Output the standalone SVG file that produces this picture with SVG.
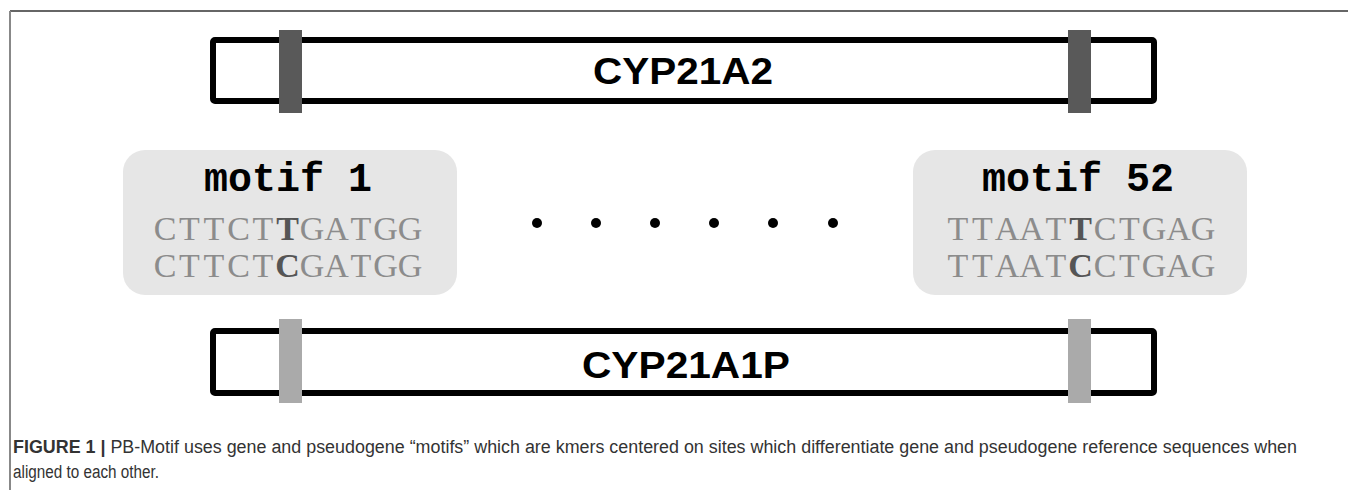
<svg xmlns="http://www.w3.org/2000/svg" width="1348" height="490" viewBox="0 0 1348 490">
<style>
.gene{fill:#fff;stroke:#000;stroke-width:6}
.gl{font-family:"Liberation Sans",Arial,sans-serif;font-weight:bold;font-size:36px;fill:#000;text-anchor:middle}
.bar1{fill:#595959}
.bar2{fill:#aaaaaa}
.mbox{fill:#e6e6e6}
.mt{font-family:"Courier New","Liberation Mono",monospace;font-weight:bold;font-size:40px;fill:#000;text-anchor:middle}
.seq{font-family:"Liberation Serif","Times New Roman",serif;font-size:34px;fill:#8c8c8c;text-anchor:middle}
.hi{font-weight:bold;fill:#555}
.dot{fill:#000}
.cap{font-family:"Liberation Sans",Arial,sans-serif;font-size:18px;fill:#333}
</style>
<rect width="1348" height="490" fill="#fff"/>
<g id="frame">
<line x1="10" y1="11" x2="1348" y2="11" stroke="#333" stroke-width="1.5"/>
<line x1="10" y1="11" x2="10" y2="490" stroke="#888" stroke-width="2"/>
</g>
<g id="gene-CYP21A2">
<rect class="gene" x="213" y="40" width="941" height="61" rx="2"/>
<rect class="bar1" x="279" y="30" width="23" height="83"/>
<rect class="bar1" x="1068" y="30" width="23" height="83"/>
<text class="gl" x="683" y="84" textLength="180" lengthAdjust="spacingAndGlyphs">CYP21A2</text>
</g>
<g id="gene-CYP21A1P">
<rect class="gene" x="213" y="331" width="941" height="62" rx="2"/>
<rect class="bar2" x="279" y="319" width="23" height="84"/>
<rect class="bar2" x="1068" y="319" width="23" height="84"/>
<text class="gl" x="686" y="378" textLength="208" lengthAdjust="spacingAndGlyphs">CYP21A1P</text>
</g>
<g id="motif-1">
<rect class="mbox" x="123" y="150" width="334" height="145" rx="22"/>
<text class="mt" x="288" y="191">motif 1</text>
<text class="seq" x="165 189.5 214 238.5 263 287.5 312 336.5 361 385.5 410" y="240">CTTCT<tspan class="hi">T</tspan>GATGG</text>
<text class="seq" x="165 189.5 214 238.5 263 287.5 312 336.5 361 385.5 410" y="277">CTTCT<tspan class="hi">C</tspan>GATGG</text>
</g>
<g id="motif-52">
<rect class="mbox" x="913" y="150" width="334" height="145" rx="22"/>
<text class="mt" x="1078" y="191">motif 52</text>
<text class="seq" x="958 982.5 1007 1031.5 1056 1080.5 1105 1129.5 1154 1178.5 1203" y="240">TTAAT<tspan class="hi">T</tspan>CTGAG</text>
<text class="seq" x="958 982.5 1007 1031.5 1056 1080.5 1105 1129.5 1154 1178.5 1203" y="277">TTAAT<tspan class="hi">C</tspan>CTGAG</text>
</g>
<g id="ellipsis">
<circle class="dot" cx="537" cy="223" r="5"/>
<circle class="dot" cx="596" cy="223" r="5"/>
<circle class="dot" cx="655" cy="223" r="5"/>
<circle class="dot" cx="714" cy="223" r="5"/>
<circle class="dot" cx="773" cy="223" r="5"/>
<circle class="dot" cx="833" cy="223" r="5"/>
</g>
<g id="connectors"></g>
<g id="caption">
<text class="cap" x="13" y="453" textLength="1284" lengthAdjust="spacingAndGlyphs"><tspan font-weight="bold">FIGURE 1 |</tspan> PB-Motif uses gene and pseudogene “motifs” which are kmers centered on sites which differentiate gene and pseudogene reference sequences when</text>
<text class="cap" x="13" y="478" textLength="146" lengthAdjust="spacingAndGlyphs">aligned to each other.</text>
</g>
</svg>
